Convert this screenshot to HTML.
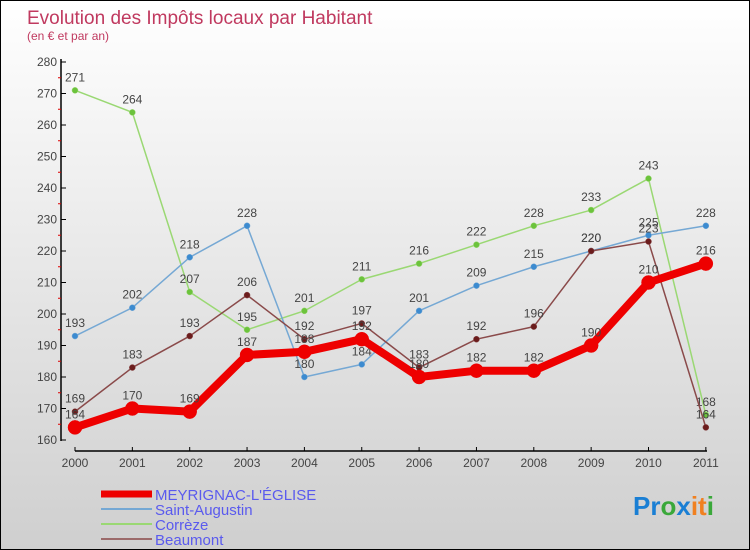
<!DOCTYPE html>
<html><head><meta charset="utf-8"><style>
body{margin:0}
#c{width:748px;height:548px;border:1px solid #000;background:linear-gradient(#fff,#cfcfcf);position:relative;font-family:"Liberation Sans",sans-serif;overflow:hidden}
svg{position:absolute;left:0;top:0}
</style></head><body>
<div id="c">
<svg id="s" width="748" height="548">
<text x="26" y="23" font-size="19" fill="#c0395f">Evolution des Impôts locaux par Habitant</text>
<text x="26" y="39" font-size="12" fill="#c0395f">(en € et par an)</text>
<text x="632" y="514" font-size="26" font-weight="bold"><tspan fill="#1a7fd4">Pr</tspan><tspan fill="#3aa83a">o</tspan><tspan fill="#1a7fd4">x</tspan><tspan fill="#f08020">it</tspan><tspan fill="#3aa83a">i</tspan></text>
</svg>
</div>
<script>
const years=[2000,2001,2002,2003,2004,2005,2006,2007,2008,2009,2010,2011];
const yTicks=[160,170,180,190,200,210,220,230,240,250,260,270,280];
const meyrignac=[164,170,169,187,188,192,180,182,182,190,210,216];
const saintAugustin=[193,202,218,228,180,184,201,209,215,220,225,228];
const correze=[271,264,207,195,201,211,216,222,228,233,243,168];
const beaumont=[169,183,193,206,192,197,183,192,196,220,223,164];
const svg=document.getElementById('s');
const NS='http://www.w3.org/2000/svg';
function X(i){return 74+i*57.35;}
function Y(v){return 439-(v-160)*(378/120);}
function mk(t,a){const e=document.createElementNS(NS,t);for(const k in a)e.setAttribute(k,a[k]);svg.appendChild(e);return e;}
let e;
e=mk('line',{x1:60,y1:58,x2:60,y2:440,stroke:'#000','stroke-width':1.5});


e=mk('line',{x1:74,y1:450,x2:706,y2:450,stroke:'#000','stroke-width':1.5});


yTicks.forEach(v=>{
 mk('line',{x1:60,y1:Y(v),x2:65,y2:Y(v),stroke:'#000'});
 if(v<280)mk('line',{x1:57,y1:Y(v+5),x2:60,y2:Y(v+5),stroke:'#d00'});
 const t=mk('text',{x:56,y:Y(v)+4,'text-anchor':'end','font-size':12,fill:'#444'});t.textContent=v;
 
 
});
years.forEach((yr,i)=>{
 mk('line',{x1:X(i),y1:446,x2:X(i),y2:450,stroke:'#000'});
 const t=mk('text',{x:X(i),y:466,'text-anchor':'middle','font-size':12,fill:'#444'});t.textContent=yr;
 
 
});
function series(d,col,dot,w,r,name){
 const p=mk('polyline',{points:d.map((v,i)=>X(i)+','+Y(v)).join(' '),fill:'none',stroke:col,'stroke-width':w,'stroke-linejoin':'round'});
 
 
 d.forEach((v,i)=>{
  const c=mk('circle',{cx:X(i),cy:Y(v),r:r,fill:dot,stroke:col,'stroke-width':0.5});
  
  
  const t=mk('text',{x:X(i),y:Y(v)-9,'text-anchor':'middle','font-size':12,fill:'#444'});t.textContent=v;
  
  
 });
}
series(correze,'#9ad873','#6cc33c',1.5,3,'correze');
series(saintAugustin,'#75a8d4','#3c8bd0',1.5,3,'saint-augustin');
series(beaumont,'#8a4a4a','#6b1c1c',1.5,3,'beaumont');
series(meyrignac,'#ee0000','#ee0000',8,7,'meyrignac');
const leg=[['MEYRIGNAC-L\'ÉGLISE','#ee0000',7],['Saint-Augustin','#75a8d4',2],['Corrèze','#9ad873',2],['Beaumont','#9b6a6a',2]];
leg.forEach((l,i)=>{
 const y=492+i*15;
 const ln=mk('line',{x1:100,y1:y+1,x2:151,y2:y+1,stroke:l[1],'stroke-width':l[2]});
 
 
 const t=mk('text',{x:154,y:y+7,'font-size':15,fill:'#5a5aee'});t.textContent=l[0];
 
 
});
</script>
</body></html>
